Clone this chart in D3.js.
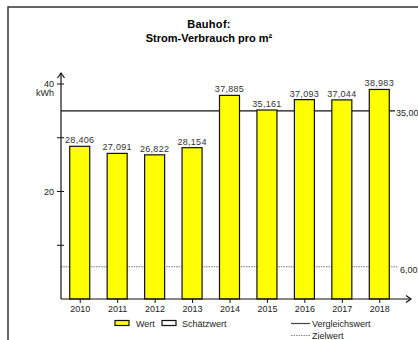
<!DOCTYPE html>
<html lang="de">
<head>
    <meta charset="UTF-8">
    <title>Bauhof: Strom-Verbrauch pro m²</title>
    <script src="https://d3js.org/d3.v7.min.js"></script>
    <style>
        body { margin: 0; background: #fff; }
        svg { display: block; font-family: "Liberation Sans", Arial, sans-serif; }
        .val { font-size: 9px; fill: #333; text-anchor: middle; letter-spacing: 0.3px; }
        .axis text { font-size: 9px; fill: #222; }
        .leg { font-size: 9px; fill: #222; }
    </style>
</head>
<body>
<svg width="418" height="340"></svg>
<script>
    // data
    const years = ["2010", "2011", "2012", "2013", "2014", "2015", "2016", "2017", "2018"];
    const values = [28.406, 27.091, 26.822, 28.154, 37.885, 35.161, 37.093, 37.044, 38.983];
    const yTicks = [10, 20, 30, 40];
    const yLabels = [20, 40];
    const vergleichswert = 35;
    const zielwert = 6;

    const svg = d3.select("svg");
    const fmt = v => v.toFixed(3).replace(".", ",");
    const fmt2 = v => v.toFixed(2).replace(".", ",");

    // outer frame
    svg.append("rect")
        .attr("x", 8).attr("y", 7)
        .attr("width", 430).attr("height", 350)
        .attr("fill", "none").attr("stroke", "#333").attr("stroke-width", 1.5);

    // title
    svg.append("text").attr("x", 209).attr("y", 28)
        .attr("text-anchor", "middle").attr("font-size", 11).attr("font-weight", "bold")
        .attr("letter-spacing", 0.3)
        .text("Bauhof:");
    svg.append("text").attr("x", 209).attr("y", 42)
        .attr("text-anchor", "middle").attr("font-size", 11).attr("font-weight", "bold")
        .text("Strom-Verbrauch pro m²");

    const x0 = 61, x1 = 398;
    const x = d3.scalePoint().domain(years).range([x0, x1]).padding(0.5);
    const y = d3.scaleLinear().domain([0, 40]).range([299, 84]);
    const barW = 20;

    // reference lines
    svg.append("line")
        .attr("x1", x0).attr("x2", 395)
        .attr("y1", y(vergleichswert)).attr("y2", y(vergleichswert))
        .attr("stroke", "#111").attr("stroke-width", 1.2);
    svg.append("text").attr("class", "leg")
        .attr("x", 396).attr("y", y(vergleichswert) + 5).text(fmt2(vergleichswert));

    svg.append("line")
        .attr("x1", x0).attr("x2", 398)
        .attr("y1", y(zielwert)).attr("y2", y(zielwert))
        .attr("stroke", "#777").attr("stroke-width", 1).attr("stroke-dasharray", "1.5,1");
    svg.append("text").attr("class", "leg")
        .attr("x", 400).attr("y", y(zielwert) + 6).text(fmt2(zielwert));

    // bars
    svg.selectAll("rect.bar")
        .data(values)
        .enter().append("rect")
        .attr("class", "bar")
        .attr("x", (d, i) => x(years[i]) - barW / 2)
        .attr("y", d => y(d))
        .attr("width", barW)
        .attr("height", d => y(0) - y(d))
        .attr("fill", "#ffff00")
        .attr("stroke", "#111").attr("stroke-width", 1.2);

    svg.selectAll("text.val")
        .data(values)
        .enter().append("text")
        .attr("class", "val")
        .attr("x", (d, i) => x(years[i]))
        .attr("y", d => y(d) - 3)
        .text(d => fmt(d));

    // y axis
    svg.append("line")
        .attr("x1", x0).attr("x2", x0).attr("y1", y(0)).attr("y2", 73)
        .attr("stroke", "#111").attr("stroke-width", 1.2);
    svg.append("path")
        .attr("d", `M${x0 - 3.5},${78} L${x0},${73} L${x0 + 3.5},${78}`)
        .attr("fill", "none").attr("stroke", "#111").attr("stroke-width", 1.2);
    svg.selectAll("line.ytick")
        .data(yTicks).enter().append("line")
        .attr("class", "ytick")
        .attr("x1", x0 - 4).attr("x2", x0 + 3)
        .attr("y1", d => y(d)).attr("y2", d => y(d))
        .attr("stroke", "#111");
    svg.selectAll("text.ylab")
        .data(yLabels).enter().append("text")
        .attr("class", "leg")
        .attr("x", x0 - 7).attr("y", d => y(d) + 3)
        .attr("text-anchor", "end")
        .text(d => d);
    svg.append("text").attr("class", "leg")
        .attr("x", x0 - 7).attr("y", y(40) + 12)
        .attr("text-anchor", "end").attr("font-size", 8)
        .text("kWh");

    // x axis
    svg.append("line")
        .attr("x1", x0).attr("x2", 411).attr("y1", y(0)).attr("y2", y(0))
        .attr("stroke", "#111").attr("stroke-width", 1.2);
    svg.append("path")
        .attr("d", `M406,${y(0) - 3.5} L411,${y(0)} L406,${y(0) + 3.5}`)
        .attr("fill", "none").attr("stroke", "#111").attr("stroke-width", 1.2);
    const xa = svg.append("g")
        .attr("class", "axis")
        .attr("transform", `translate(0,${y(0)})`)
        .call(d3.axisBottom(x).tickSize(4).tickPadding(3));
    xa.select(".domain").remove();
    xa.selectAll("line").attr("stroke", "#111");

    // legend
    const lg = svg.append("g");
    lg.append("rect").attr("x", 115).attr("y", 320.5).attr("width", 14).attr("height", 5)
        .attr("fill", "#ffff00").attr("stroke", "#111").attr("stroke-width", 1.2);
    lg.append("text").attr("class", "leg").attr("x", 136).attr("y", 327).text("Wert");
    lg.append("rect").attr("x", 162).attr("y", 320.5).attr("width", 14).attr("height", 5)
        .attr("fill", "#fff").attr("stroke", "#111").attr("stroke-width", 1.2);
    lg.append("text").attr("class", "leg").attr("x", 182).attr("y", 327).text("Schätzwert");
    lg.append("line").attr("x1", 291).attr("x2", 310).attr("y1", 323.5).attr("y2", 323.5)
        .attr("stroke", "#444").attr("stroke-width", 1.2);
    lg.append("text").attr("class", "leg").attr("x", 312).attr("y", 327).text("Vergleichswert");
    lg.append("line").attr("x1", 291).attr("x2", 310).attr("y1", 335.5).attr("y2", 335.5)
        .attr("stroke", "#888").attr("stroke-width", 1).attr("stroke-dasharray", "1.5,1");
    lg.append("text").attr("class", "leg").attr("x", 312).attr("y", 338.5)
        .attr("font-size", 8.5).text("Zielwert");
</script>
</body>
</html>
